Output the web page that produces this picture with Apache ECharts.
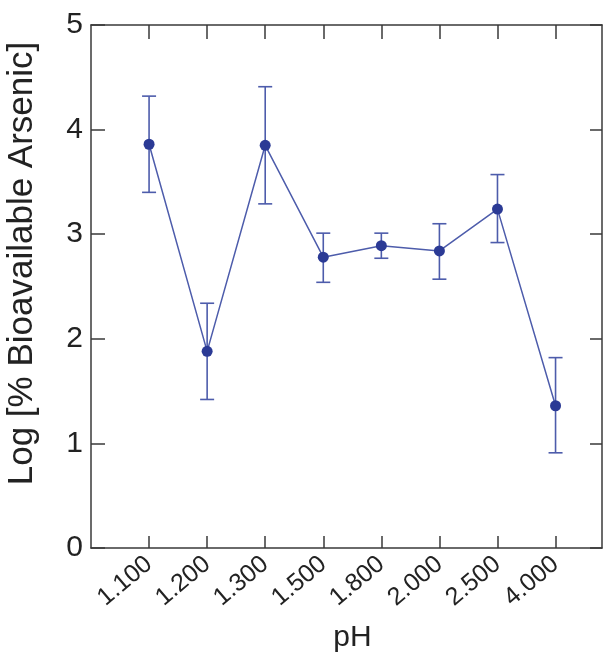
<!DOCTYPE html>
<html><head><meta charset="utf-8">
<script src="https://cdn.jsdelivr.net/npm/echarts@6/dist/echarts.min.js"></script>
<style>html,body{margin:0;padding:0;background:#fff}#c{width:605px;height:656px}</style>
</head><body><div id="c"></div>
<script>
const categories = ["1.100","1.200","1.300","1.500","1.800","2.000","2.500","4.000"];
const values = [3.86, 1.88, 3.85, 2.78, 2.89, 2.84, 3.24, 1.36];
const errLow = [3.40, 1.42, 3.29, 2.54, 2.77, 2.57, 2.92, 0.91];
const errHigh = [4.32, 2.34, 4.41, 3.01, 3.01, 3.10, 3.57, 1.82];
const yTicks = [0, 1, 2, 3, 4, 5];

const idx = categories.map((c, i) => i + 1);
const lineData = values.map((v, i) => [idx[i], v]);
const errData = values.map((v, i) => [idx[i], errLow[i], errHigh[i]]);

const axisCol = '#3a3a3a';
const lineCol = '#4d5cab';
const dotCol = '#2b3a95';
const font = 'Liberation Sans, Arial, sans-serif';
const XMAX = 8.8;

const chart = echarts.init(document.getElementById('c'));
chart.setOption({
  animation: false,
  grid: { left: 91, right: 3, top: 25, bottom: 108, containLabel: false, outerBoundsMode: 'none' },
  xAxis: [{
    type: 'value', min: 0, max: XMAX, interval: 1,
    axisLine: { onZero: false, lineStyle: { color: axisCol, width: 1.5 } },
    axisTick: { inside: true, length: 12, customValues: idx, lineStyle: { color: axisCol, width: 1.5 } },
    splitLine: { show: false },
    axisLabel: {
      customValues: idx, rotate: 40, fontSize: 25, color: '#222', fontFamily: font, margin: 13,
      padding: [0, 0, 0, 0],
      formatter: v => categories[Math.round(v) - 1] || ''
    },
    name: 'pH', nameLocation: 'middle', nameGap: 75,
    nameTextStyle: { fontSize: 30, color: '#222', fontFamily: font, padding: [0, 0, 0, 12] }
  }, {
    type: 'value', position: 'top', min: 0, max: XMAX, interval: 1,
    axisLine: { show: true, onZero: false, lineStyle: { color: axisCol, width: 1.5 } },
    axisTick: { inside: true, length: 14, customValues: idx, lineStyle: { color: axisCol, width: 1.5 } },
    axisLabel: { show: false }, splitLine: { show: false }
  }],
  yAxis: [{
    type: 'value', min: 0, max: 5, interval: 1,
    axisLine: { show: true, onZero: false, lineStyle: { color: axisCol, width: 1.5 } },
    axisTick: { show: true, inside: true, length: 14, customValues: yTicks, lineStyle: { color: axisCol, width: 1.5 } },
    splitLine: { show: false },
    axisLabel: { fontSize: 30, color: '#222', fontFamily: font, margin: 8 },
    name: 'Log [% Bioavailable Arsenic]', nameLocation: 'middle', nameGap: 51,
    nameTextStyle: { fontSize: 35, color: '#222', fontFamily: font, padding: [0, 0, 0, 46] }
  }, {
    type: 'value', position: 'right', min: 0, max: 5, interval: 1,
    axisLine: { show: true, onZero: false, lineStyle: { color: axisCol, width: 1.5 } },
    axisTick: { show: true, inside: true, length: 12, lineStyle: { color: axisCol, width: 1.5 } },
    axisLabel: { show: false }, splitLine: { show: false }
  }],
  series: [{
    type: 'custom',
    data: errData,
    renderItem: function (params, api) {
      const x = api.value(0);
      const lo = api.coord([x, api.value(1)]);
      const hi = api.coord([x, api.value(2)]);
      const w = 7;
      const st = { stroke: lineCol, lineWidth: 1.6 };
      return { type: 'group', children: [
        { type: 'line', shape: { x1: lo[0], y1: lo[1], x2: hi[0], y2: hi[1] }, style: st },
        { type: 'line', shape: { x1: lo[0] - w, y1: lo[1], x2: lo[0] + w, y2: lo[1] }, style: st },
        { type: 'line', shape: { x1: hi[0] - w, y1: hi[1], x2: hi[0] + w, y2: hi[1] }, style: st }
      ]};
    },
    z: 2
  }, {
    type: 'line',
    data: lineData,
    symbol: 'circle', symbolSize: 11,
    lineStyle: { color: lineCol, width: 1.5 },
    itemStyle: { color: dotCol },
    z: 3
  }]
});
</script></body></html>
